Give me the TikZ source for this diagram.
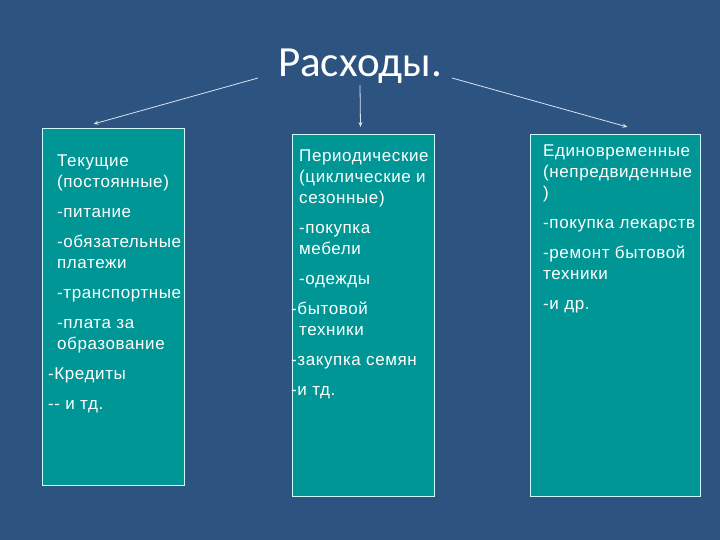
\documentclass[tikz,border=0pt]{standalone}
\usepackage{fontspec}
\setmainfont{Liberation Sans}
\newfontfamily\titlefont{Carlito}
\newfontfamily\boxfont[LetterSpace=3.5]{Liberation Sans}
\usetikzlibrary{positioning,arrows.meta}
\definecolor{bgblue}{RGB}{45,84,128}
\definecolor{boxteal}{RGB}{0,150,150}
\definecolor{edgecyan}{RGB}{205,250,250}
\definecolor{arrowgray}{RGB}{215,228,240}

\begin{document}
\begin{tikzpicture}[x=1pt, y=-1pt,
    box/.style={draw=edgecyan, fill=boxteal, line width=1pt, anchor=north west, inner sep=0pt},
    txt/.style={inner sep=0pt, align=left, text=white, font=\boxfont\fontsize{17}{21}\selectfont},
    arr/.style={draw=arrowgray, line width=0.8pt, -{Stealth[length=5pt, width=4pt]}}]
			\fill[bgblue] (0,0) rectangle (720,540);
			% Nodes
			\node[anchor=base, text=white, font=\titlefont\fontsize{43}{50}\selectfont] (title) at (360,77) {Расходы.};
			\node[box, minimum width=142pt, minimum height=357pt] (b1) at (42,128) {};
			\node[box, minimum width=142pt, minimum height=362pt] (b2) at (292,134) {};
			\node[box, minimum width=170pt, minimum height=362pt] (b3) at (530,134) {};
			\node[txt, below right=27pt and 15pt of b1.north west] (t1) {Текущие\\(постоянные)\\[9pt]-питание\\[9pt]-обязательные\\платежи\\[9pt]-транспортные\\[9pt]-плата за\\образование\\[9pt]\hspace*{-9pt}-Кредиты\\[9pt]\hspace*{-9pt}-{}- и тд.};
			\node[txt, below right=16pt and 7pt of b2.north west] (t2) {Периодические\\(циклические и\\сезонные)\\[9pt]-покупка\\мебели\\[9pt]-одежды\\[9pt]\hspace*{-8pt}-бытовой\\техники\\[9pt]\hspace*{-8pt}-закупка семян\\[9pt]\hspace*{-8pt}-и тд.};
			\node[txt, below right=11pt and 13pt of b3.north west] (t3) {Единовременные\\(непредвиденные\\)\\[9pt]-покупка лекарств\\[9pt]-ремонт бытовой\\техники\\[9pt]-и др.};
			\coordinate (s1) at (258,78);
			\coordinate (s2) at (360,85);
			\coordinate (s3) at (452,78);
			% Edges
			\draw[arr] (s1) -- ([xshift=-20pt, yshift=4pt]b1.north);
			\draw[arr] (s2) -- ([xshift=-3pt, yshift=7pt]b2.north);
			\draw[arr] (s3) -- ([xshift=12pt, yshift=7pt]b3.north);
		\end{tikzpicture}
\end{document}
